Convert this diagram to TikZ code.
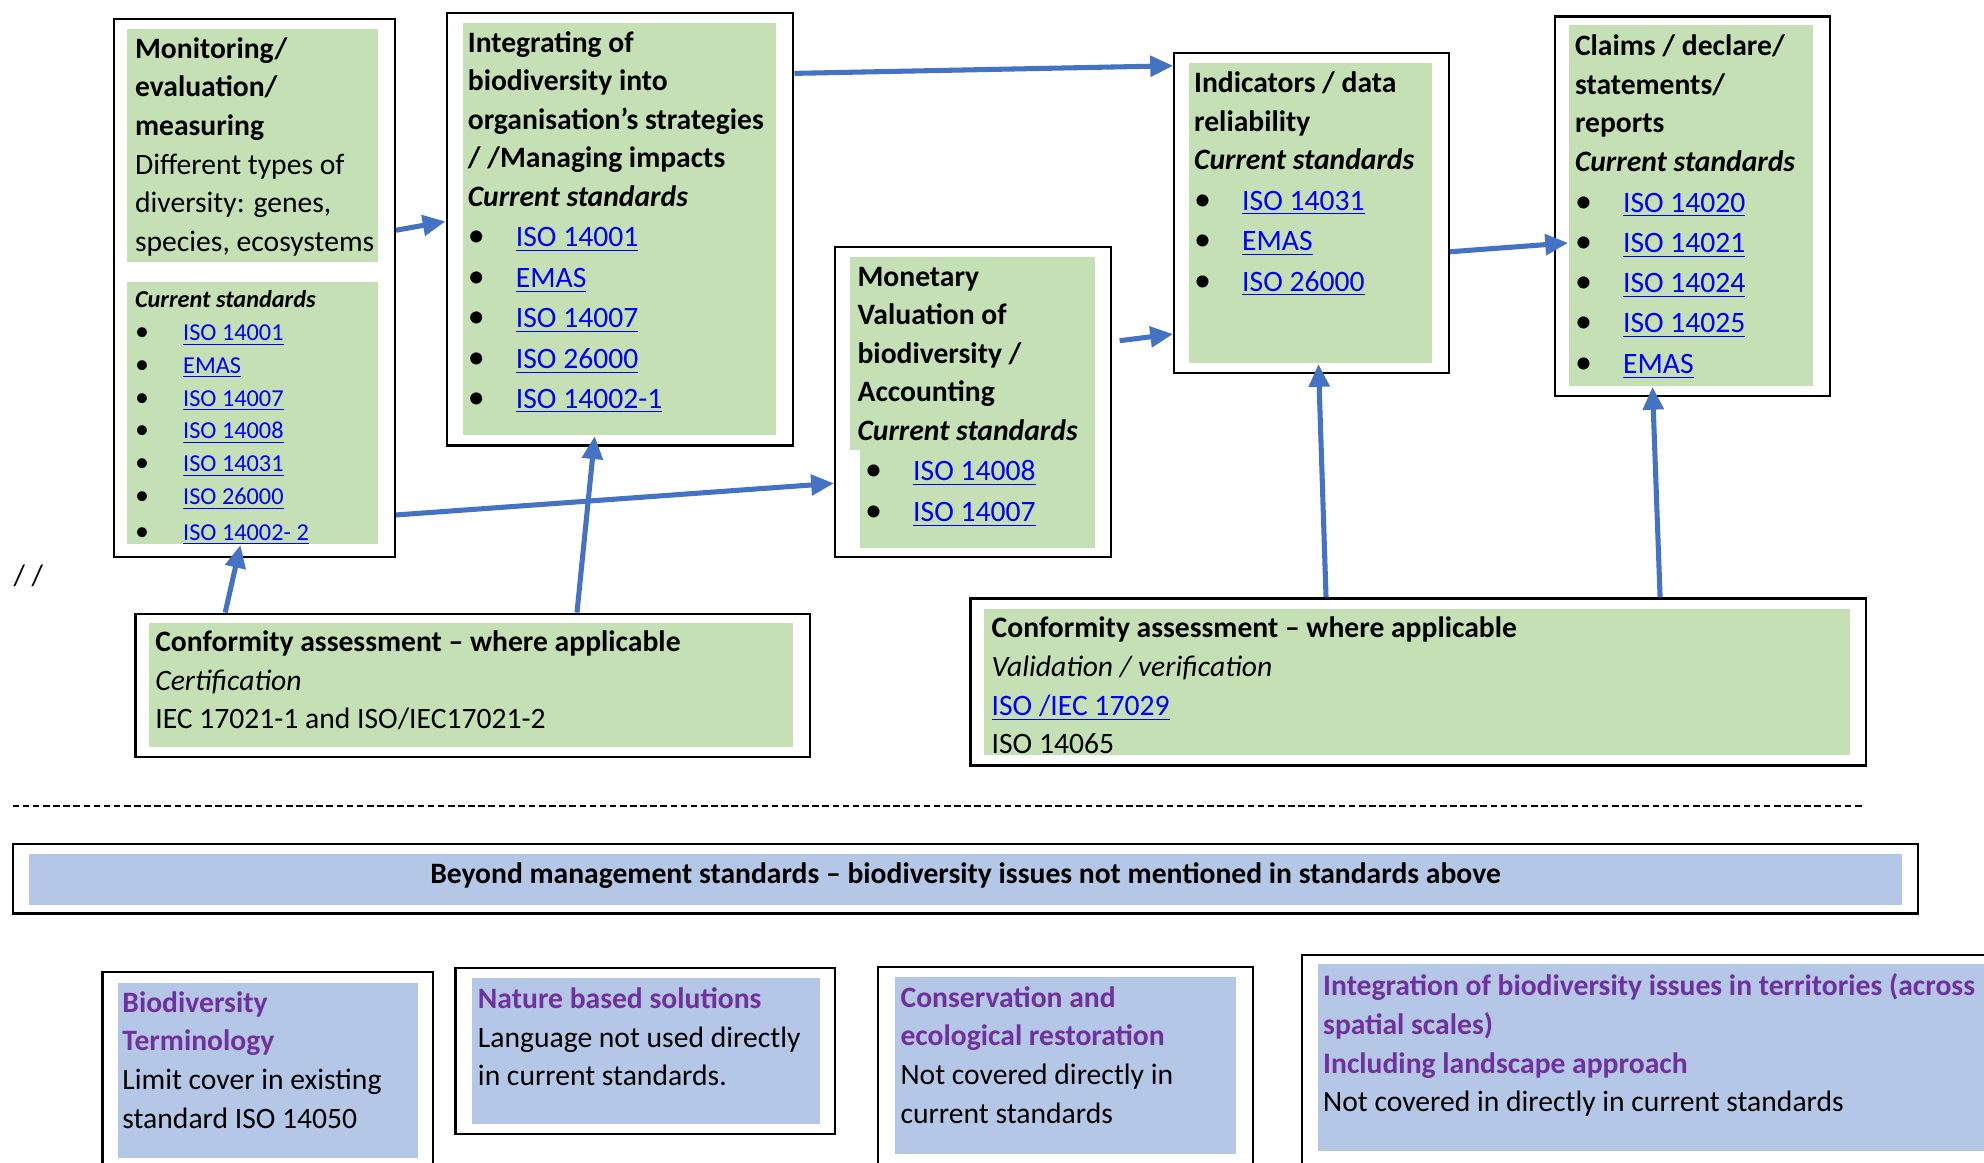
\documentclass[tikz,border=0pt]{standalone}
\usepackage{fontspec}
\setmainfont{Carlito}
\usetikzlibrary{arrows.meta,fit}

\definecolor{greenfill}{RGB}{197,224,180}
\definecolor{bluefill}{RGB}{180,199,231}
\definecolor{arrowblue}{RGB}{68,114,196}
\definecolor{titlepurple}{RGB}{112,48,160}
\definecolor{linkblue}{RGB}{0,0,255}

\newcommand\bigtxt{\fontsize{11.7}{15.25}\selectfont}
\newcommand\smalltxt{\fontsize{9.6}{13}\selectfont}
\newcommand\lnk[1]{\textcolor{linkblue}{\underline{#1}}}
\newcommand\itm[1]{\makebox[19pt][l]{\scalebox{1.15}{\textbullet}}\lnk{#1}}
\newcommand\smallitm[1]{\makebox[19pt][l]{\scalebox{1.15}{\textbullet}}\lnk{#1}}
\newcommand\purp[1]{\textcolor{titlepurple}{\textbf{#1}}}

\tikzset{every picture/.style={line width=0.75pt}}
\tikzset{
  outerbox/.style={draw, fill=white, inner sep=0pt, line width=0.9pt},
  greenbox/.style={fill=greenfill, inner sep=0pt},
  bluebox/.style={fill=bluefill, inner sep=0pt},
  txt/.style={anchor=north west, inner sep=0pt, align=left, font=\bigtxt},
  flow/.style={draw=arrowblue, line width=2pt, -{Triangle[length=9pt,width=8pt]}},
}

\begin{document}
\begin{tikzpicture}[x=0.5pt,y=0.5pt,yscale=-1,xscale=1]
\useasboundingbox (0,0) rectangle (1568,919);
\clip (0,0) rectangle (1568,919);

%Shape: Rectangle [boxA] 
\node [outerbox, fit={(90,15) (312,440)}] (boxA) {};
\node [greenbox, fit={(100,23) (299,207)}] (greenA1) {};
\node [greenbox, fit={(100,223) (299,430)}] (greenA2) {};
%Shape: Rectangle [boxB] 
\node [outerbox, fit={(353,10) (627,352)}] (boxB) {};
\node [greenbox, fit={(366,18) (613,344)}] (greenB) {};
%Shape: Rectangle [boxC] 
\node [outerbox, fit={(660,195) (878,440)}] (boxC) {};
\node [greenbox, fit={(672,203) (865,356)}] (greenC1) {};
\node [greenbox, fit={(680,355) (865,433)}] (greenC2) {};
%Shape: Rectangle [boxD] 
\node [outerbox, fit={(928,42) (1145,295)}] (boxD) {};
\node [greenbox, fit={(940,50) (1132,287)}] (greenD) {};
%Shape: Rectangle [boxE] 
\node [outerbox, fit={(1229,13) (1446,313)}] (boxE) {};
\node [greenbox, fit={(1240,20) (1433,305)}] (greenE) {};
%Shape: Rectangle [boxF] 
\node [outerbox, fit={(107,485) (640,598)}] (boxF) {};
\node [greenbox, fit={(118,492) (627,590)}] (greenF) {};
%Shape: Rectangle [boxG] 
\node [outerbox, fit={(767,473) (1475,605)}] (boxG) {};
\node [greenbox, fit={(778,481) (1462,597)}] (greenG) {};
%Shape: Rectangle [boxH] 
\node [outerbox, fit={(10,667) (1516,722)}] (boxH) {};
\node [bluebox, fit={(23,675) (1503,715)}] (blueH) {};
%Shape: Rectangle [boxI] 
\node [outerbox, fit={(81,768) (342,940)}] (boxI) {};
\node [bluebox, fit={(93,777) (330,915)}] (blueI) {};
%Shape: Rectangle [boxJ] 
\node [outerbox, fit={(360,765) (660,896)}] (boxJ) {};
\node [bluebox, fit={(373,773) (648,888)}] (blueJ) {};
%Shape: Rectangle [boxK] 
\node [outerbox, fit={(694,764) (990,940)}] (boxK) {};
\node [bluebox, fit={(707,772) (977,912)}] (blueK) {};
%Shape: Rectangle [boxL] 
\node [outerbox, fit={(1029,755) (1600,940)}] (boxL) {};
\node [bluebox, fit={(1042,762) (1600,910)}] (blueL) {};

%Straight Lines [dashed separator] 
\draw [line width=0.6pt, dash pattern=on 2.6pt off 1.4pt] (10,637) -- (1472,637);

% Text Node
\node [txt] (txtA1) at (106,24) {\strut\textbf{Monitoring/}\\\textbf{evaluation/}\\\textbf{measuring}\\Different types of\\diversity: genes,\\species, ecosystems};
% Text Node
\node [txt, font=\smalltxt] (txtA2) at (106,224) {\strut\textbf{\textit{Current standards}}\\\smallitm{ISO 14001}\\\smallitm{EMAS}\\\smallitm{ISO 14007}\\\smallitm{ISO 14008}\\\smallitm{ISO 14031}\\\smallitm{ISO 26000}\\[1pt]\smallitm{ISO 14002- 2}};
% Text Node
\node [txt] (txtB) at (369,19) {\strut\textbf{Integrating of}\\\textbf{biodiversity into}\\\textbf{organisation’s strategies}\\\textbf{/ /Managing impacts}\\\textbf{\textit{Current standards}}\\[0.75pt]\itm{ISO 14001}\\[0.75pt]\itm{EMAS}\\[0.75pt]\itm{ISO 14007}\\[0.75pt]\itm{ISO 26000}\\[0.5pt]\itm{ISO 14002-1}};
% Text Node
\node [txt] (txtC) at (677,204) {\strut\textbf{Monetary}\\\textbf{Valuation of}\\\textbf{biodiversity /}\\\textbf{Accounting}\\\textbf{\textit{Current standards}}\\[0.75pt]\hspace*{3pt}\itm{ISO 14008}\\[0.75pt]\hspace*{3pt}\itm{ISO 14007}};
% Text Node
\node [txt] (txtD) at (943,51) {\strut\textbf{Indicators / data}\\\textbf{reliability}\\\textbf{\textit{Current standards}}\\[0.75pt]\itm{ISO 14031}\\[0.75pt]\itm{EMAS}\\[0.75pt]\itm{ISO 26000}};
% Text Node
\node [txt] (txtE) at (1244,22) {\strut\textbf{Claims / declare/}\\\textbf{statements/}\\\textbf{reports}\\\textbf{\textit{Current standards}}\\[0.75pt]\itm{ISO 14020}\\[0.75pt]\itm{ISO 14021}\\[0.5pt]\itm{ISO 14024}\\[0.75pt]\itm{ISO 14025}\\[0.75pt]\itm{EMAS}};
% Text Node
\node [txt] (txtF) at (122,493) {\strut\textbf{Conformity assessment – where applicable}\\\textit{Certification}\\IEC 17021-1 and ISO/IEC17021-2};
% Text Node
\node [txt] (txtG) at (783,482) {\strut\textbf{Conformity assessment – where applicable}\\\textit{Validation / verification}\\\lnk{ISO /IEC 17029}\\ISO 14065};
% Text Node
\node [font=\bigtxt, inner sep=0pt] (txtH) at (763,692) {\textbf{Beyond management standards – biodiversity issues not mentioned in standards above}};
% Text Node
\node [txt] (txtI) at (96,778) {\strut\purp{Biodiversity}\\\purp{Terminology}\\Limit cover in existing\\standard ISO 14050};
% Text Node
\node [txt] (txtJ) at (377,775) {\strut\purp{Nature based solutions}\\Language not used directly\\in current standards.};
% Text Node
\node [txt] (txtK) at (711,774) {\strut\purp{Conservation and}\\\purp{ecological restoration}\\Not covered directly in\\current standards};
% Text Node
\node [txt] (txtL) at (1045,765) {\strut\purp{Integration of biodiversity issues in territories (across}\\\purp{spatial scales)}\\\purp{Including landscape approach}\\Not covered in directly in current standards};
% Text Node
\node [font=\bigtxt, inner sep=0pt, anchor=west] (slashes) at (10,455) {/ /};

%Straight Lines [arrows] 
\draw [flow] (boxA.east |- 0,182) -- (boxB.west |- 0,175);
\draw [flow] (boxB.east |- 0,58) -- (boxD.west |- 0,52);
\draw [flow] (boxA.east |- 0,407) -- (boxC.west |- 0,382);
\draw [flow, shorten <=3pt] (boxC.east |- 0,270) -- (boxD.west |- 0,264);
\draw [flow] (boxD.east |- 0,199) -- (greenE.west |- 0,192);
\draw [flow] (boxF.north -| 178,0) -- (greenA2.south -| 190,0);
\draw [flow] (boxF.north -| 456,0) -- (greenB.south -| 470,0);
\draw [flow] (boxG.north -| 1048,0) -- (greenD.south -| 1042,0);
\draw [flow] (boxG.north -| 1312,0) -- (greenE.south -| 1306,0);

\end{tikzpicture}
\end{document}
